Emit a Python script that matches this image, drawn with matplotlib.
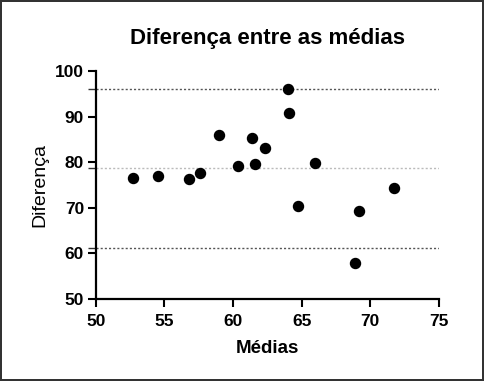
import matplotlib
matplotlib.use("Agg")
import matplotlib.pyplot as plt
import numpy as np

# values (Bland-Altman style plot)
medias = [52.7, 54.5, 56.8, 57.6, 59.0, 60.35, 61.35, 61.6, 62.3,
          64.0, 64.1, 64.7, 66.0, 68.9, 69.2, 71.7]
diferenca = [76.6, 76.9, 76.2, 77.6, 85.9, 79.1, 85.2, 79.6, 83.1,
             96.0, 90.7, 70.4, 79.9, 57.9, 69.4, 74.4]
media_dif = 78.7
limite_sup = 96.1
limite_inf = 61.3

x_ticks = [50, 55, 60, 65, 70, 75]
y_ticks = [50, 60, 70, 80, 90, 100]

plt.rcParams['font.family'] = ['Liberation Sans', 'DejaVu Sans']

fig = plt.figure(figsize=(4.84, 3.81), dpi=100)
fig.patch.set_edgecolor('#333333')
fig.patch.set_linewidth(1.5)
ax = fig.add_axes([0.198, 0.215, 0.709, 0.599])

ax.axhline(limite_sup, color='#555555', linestyle=(0, (1.5, 1.5)), linewidth=1.0, zorder=1)
ax.axhline(media_dif, color='#bbbbbb', linestyle=(0, (1.5, 1.5)), linewidth=1.0, zorder=1)
ax.axhline(limite_inf, color='#555555', linestyle=(0, (1.5, 1.5)), linewidth=1.0, zorder=1)

ax.scatter(medias, diferenca, s=52, color='black', zorder=3, clip_on=False)

ax.set_xlim(50, 75)
ax.set_ylim(50, 100)
ax.set_xticks(x_ticks)
ax.set_yticks(y_ticks)
ax.set_yticks([limite_inf, media_dif, limite_sup], minor=True)

for side in ['top', 'right']:
    ax.spines[side].set_visible(False)
for side in ['left', 'bottom']:
    ax.spines[side].set_linewidth(1.6)

ax.tick_params(which='major', length=5.5, width=1.5, direction='out',
               labelsize=12.5)
ax.tick_params(axis='x', which='major', pad=5)
ax.tick_params(axis='y', which='major', pad=3)
ax.tick_params(axis='y', which='minor', length=5.5, width=1.0, color='#333333')
for lbl in ax.get_xticklabels() + ax.get_yticklabels():
    lbl.set_fontweight('bold')

ax.set_xlabel('Médias', fontsize=13.5, fontweight='bold', labelpad=8)
ax.set_ylabel('Diferença', fontsize=14, labelpad=5)
ax.set_title('Diferença entre as médias', fontsize=16, fontweight='bold', pad=19)

fig.savefig('out.png', dpi=100)
